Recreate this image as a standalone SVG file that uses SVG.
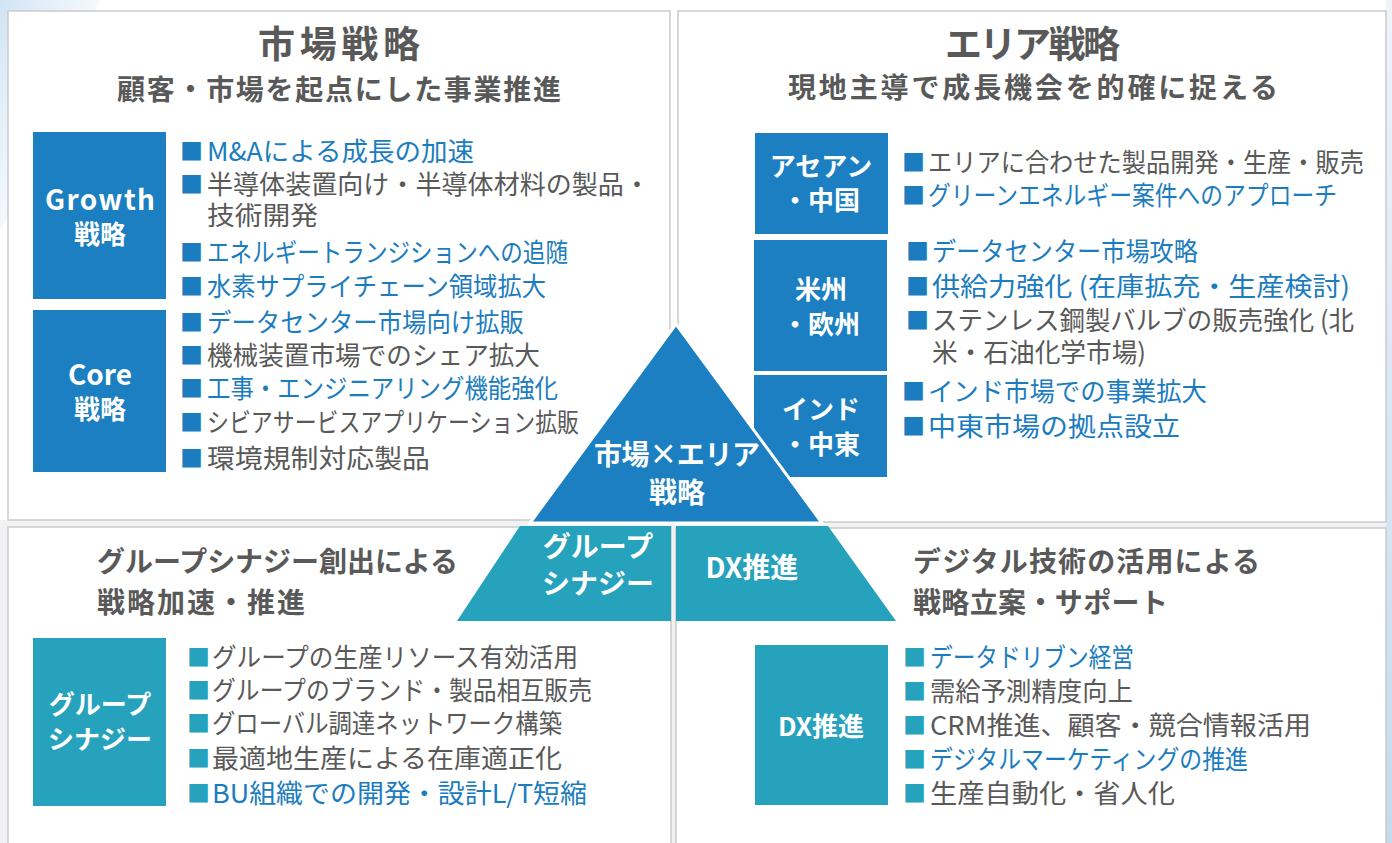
<svg xmlns="http://www.w3.org/2000/svg" width="1392" height="843" viewBox="0 0 1392 843">
<defs>
<linearGradient id="bgL" x1="0" y1="0" x2="1" y2="1">
<stop offset="0" stop-color="#cfe3f3"/>
<stop offset="1" stop-color="#ffffff" stop-opacity="0"/>
</linearGradient>
<linearGradient id="bgR" x1="0" y1="0" x2="0" y2="1">
<stop offset="0" stop-color="#eef4fa"/>
<stop offset="1" stop-color="#c4dbee"/>
</linearGradient>
</defs>
<style>
text{font-family:"Noto Sans CJK JP","Noto Sans",sans-serif}
.panel{fill:#ffffff;stroke:#cacaca;stroke-width:1.5}
.title{font-size:37px;font-weight:bold;fill:#595959}
.sub{font-size:28px;font-weight:bold;fill:#595959}
.b{font-size:26px;fill:#595959}
.bl{fill:#1b7cc0}
.sq{font-size:23px;fill:#1b7cc0}
.sqt{font-size:23px;fill:#26a2bd}
.box{fill:#1b7fc1}
.boxt{fill:#26a2bd}
.bt{font-size:26px;font-weight:bold;fill:#ffffff;text-anchor:middle}
.btl{font-size:28px;font-weight:bold;fill:#ffffff;text-anchor:middle}
</style>
<rect x="0" y="0" width="1392" height="843" fill="#ffffff"/>
<polygon points="0,0 100,0 20,200 0,230" fill="url(#bgL)"/>
<rect x="0" y="520" width="1392" height="8" fill="#f1f2f3"/>
<rect x="0" y="527" width="8" height="316" fill="#f0f1f2"/>
<rect x="671" y="527" width="5" height="316" fill="#f0f1f2"/>
<rect x="1386" y="0" width="6" height="843" fill="url(#bgR)"/>

<g id="panel-market">
<rect class="panel" x="8" y="11" width="662" height="509"/>
<text class="title" x="258" y="58" textLength="162" lengthAdjust="spacing">市場戦略</text>
<text class="sub" x="117" y="100" textLength="444" lengthAdjust="spacing">顧客・市場を起点にした事業推進</text>
</g>
<g id="panel-area">
<rect class="panel" x="678" y="11" width="708" height="511"/>
<text class="title" x="945" y="58" textLength="175" lengthAdjust="spacing">エリア戦略</text>
<text class="sub" x="788" y="98" textLength="490" lengthAdjust="spacing">現地主導で成長機会を的確に捉える</text>
</g>
<g id="panel-synergy">
<rect class="panel" x="8" y="527" width="663" height="330"/>
<text class="sub" x="97" y="572" textLength="361" lengthAdjust="spacing">グループシナジー創出による</text>
<text class="sub" x="97" y="613" textLength="208" lengthAdjust="spacing">戦略加速・推進</text>
</g>
<g id="panel-dx">
<rect class="panel" x="676" y="528" width="710" height="330"/>
<text class="sub" x="913" y="572" textLength="347" lengthAdjust="spacing">デジタル技術の活用による</text>
<text class="sub" x="913" y="613" textLength="255" lengthAdjust="spacing">戦略立案・サポート</text>
</g>

<g id="node-growth">
<rect class="box" x="33" y="132" width="133" height="167"/>
<text class="btl" x="100" y="210" textLength="110" lengthAdjust="spacing">Growth</text>
<text class="bt" x="100" y="244">戦略</text>
</g>
<g id="node-growth-items">
<text class="sq" x="180" y="160">■</text><text class="b bl" x="207" y="161" textLength="267" lengthAdjust="spacingAndGlyphs">M&amp;Aによる成長の加速</text>
<text class="sq" x="180" y="193">■</text><text class="b" x="207" y="194" textLength="443" lengthAdjust="spacingAndGlyphs">半導体装置向け・半導体材料の製品・</text>
<text class="b" x="207" y="225" textLength="111" lengthAdjust="spacingAndGlyphs">技術開発</text>
<text class="sq" x="180" y="261">■</text><text class="b bl" x="207" y="262" textLength="361" lengthAdjust="spacingAndGlyphs">エネルギートランジションへの追随</text>
<text class="sq" x="180" y="295">■</text><text class="b bl" x="207" y="296" textLength="339" lengthAdjust="spacingAndGlyphs">水素サプライチェーン領域拡大</text>
</g>
<g id="node-core">
<rect class="box" x="33" y="310" width="133" height="162"/>
<text class="btl" x="100" y="385">Core</text>
<text class="bt" x="100" y="419">戦略</text>
</g>
<g id="node-core-items">
<text class="sq" x="180" y="331">■</text><text class="b bl" x="207" y="332" textLength="317" lengthAdjust="spacingAndGlyphs">データセンター市場向け拡販</text>
<text class="sq" x="180" y="364">■</text><text class="b" x="207" y="365" textLength="333" lengthAdjust="spacingAndGlyphs">機械装置市場でのシェア拡大</text>
<text class="sq" x="180" y="397">■</text><text class="b bl" x="207" y="398" textLength="351" lengthAdjust="spacingAndGlyphs">工事・エンジニアリング機能強化</text>
<text class="sq" x="180" y="431">■</text><text class="b" x="207" y="432" textLength="372" lengthAdjust="spacingAndGlyphs">シビアサービスアプリケーション拡販</text>
<text class="sq" x="180" y="467">■</text><text class="b" x="207" y="468" textLength="223" lengthAdjust="spacingAndGlyphs">環境規制対応製品</text>
</g>

<g id="node-asean">
<rect class="box" x="755" y="133" width="133" height="101"/>
<text class="bt" x="821" y="176">アセアン</text>
<text class="bt" x="821" y="210">・中国</text>
</g>
<g id="node-asean-items">
<text class="sq" x="902" y="171">■</text><text class="b" x="928" y="172" textLength="436" lengthAdjust="spacingAndGlyphs">エリアに合わせた製品開発・生産・販売</text>
<text class="sq" x="902" y="204">■</text><text class="b bl" x="928" y="205" textLength="409" lengthAdjust="spacingAndGlyphs">グリーンエネルギー案件へのアプローチ</text>
</g>
<g id="node-americas">
<rect class="box" x="754" y="240" width="133" height="131"/>
<text class="bt" x="821" y="299">米州</text>
<text class="bt" x="821" y="334">・欧州</text>
</g>
<g id="node-americas-items">
<text class="sq" x="906" y="260">■</text><text class="b bl" x="932" y="261" textLength="266" lengthAdjust="spacingAndGlyphs">データセンター市場攻略</text>
<text class="sq" x="906" y="295">■</text><text class="b bl" x="932" y="296" textLength="418" lengthAdjust="spacingAndGlyphs">供給力強化 (在庫拡充・生産検討)</text>
<text class="sq" x="906" y="329">■</text><text class="b" x="932" y="330" textLength="422" lengthAdjust="spacingAndGlyphs">ステンレス鋼製バルブの販売強化 (北</text>
<text class="b" x="932" y="362" textLength="214" lengthAdjust="spacingAndGlyphs">米・石油化学市場)</text>
</g>
<g id="node-india">
<rect class="box" x="754" y="375" width="133" height="102"/>
<text class="bt" x="821" y="419">インド</text>
<text class="bt" x="821" y="454">・中東</text>
</g>
<g id="node-india-items">
<text class="sq" x="902" y="400">■</text><text class="b bl" x="928" y="401" textLength="279" lengthAdjust="spacingAndGlyphs">インド市場での事業拡大</text>
<text class="sq" x="902" y="435">■</text><text class="b bl" x="928" y="436" textLength="252" lengthAdjust="spacingAndGlyphs">中東市場の拠点設立</text>
</g>

<g id="node-synergy">
<rect class="boxt" x="33" y="638" width="133" height="168"/>
<text class="bt" x="100" y="714">グループ</text>
<text class="bt" x="100" y="749">シナジー</text>
</g>
<g id="node-synergy-items">
<text class="sqt" x="187" y="666">■</text><text class="b" x="212" y="667" textLength="366" lengthAdjust="spacingAndGlyphs">グループの生産リソース有効活用</text>
<text class="sqt" x="187" y="699">■</text><text class="b" x="212" y="700" textLength="380" lengthAdjust="spacingAndGlyphs">グループのブランド・製品相互販売</text>
<text class="sqt" x="187" y="732">■</text><text class="b" x="212" y="733" textLength="350" lengthAdjust="spacingAndGlyphs">グローバル調達ネットワーク構築</text>
<text class="sqt" x="187" y="767">■</text><text class="b" x="212" y="768" textLength="350" lengthAdjust="spacingAndGlyphs">最適地生産による在庫適正化</text>
<text class="sqt" x="187" y="802">■</text><text class="b bl" x="212" y="803" textLength="375" lengthAdjust="spacingAndGlyphs">BU組織での開発・設計L/T短縮</text>
</g>
<g id="node-dx">
<rect class="boxt" x="755" y="645" width="133" height="160"/>
<text class="bt" x="821" y="736">DX推進</text>
</g>
<g id="node-dx-items">
<text class="sqt" x="903" y="666">■</text><text class="b bl" x="930" y="667" textLength="204" lengthAdjust="spacingAndGlyphs">データドリブン経営</text>
<text class="sqt" x="903" y="700">■</text><text class="b" x="930" y="701" textLength="203" lengthAdjust="spacingAndGlyphs">需給予測精度向上</text>
<text class="sqt" x="903" y="734">■</text><text class="b" x="930" y="735" textLength="381" lengthAdjust="spacingAndGlyphs">CRM推進、顧客・競合情報活用</text>
<text class="sqt" x="903" y="768">■</text><text class="b bl" x="930" y="769" textLength="318" lengthAdjust="spacingAndGlyphs">デジタルマーケティングの推進</text>
<text class="sqt" x="903" y="802">■</text><text class="b" x="930" y="803" textLength="245" lengthAdjust="spacingAndGlyphs">生産自動化・省人化</text>
</g>

<g id="node-pyramid-top">
<polygon points="676,324 822,523 530,523" fill="#1b7fc1" stroke="#ffffff" stroke-width="3" stroke-linejoin="miter"/>
<text class="btl" x="677" y="465" textLength="166" lengthAdjust="spacing">市場×エリア</text>
<text class="btl" x="677" y="503">戦略</text>
</g>
<g id="node-pyramid-left">
<polygon points="520,526 671,526 671,621 457,621" fill="#26a2bd"/>
<text class="btl" x="598" y="557">グループ</text>
<text class="btl" x="598" y="594">シナジー</text>
</g>
<g id="node-pyramid-right">
<polygon points="676,526 828,526 896,621 676,621" fill="#26a2bd"/>
<text class="btl" x="752" y="578">DX推進</text>
</g>
<g id="connectors"></g>
</svg>
